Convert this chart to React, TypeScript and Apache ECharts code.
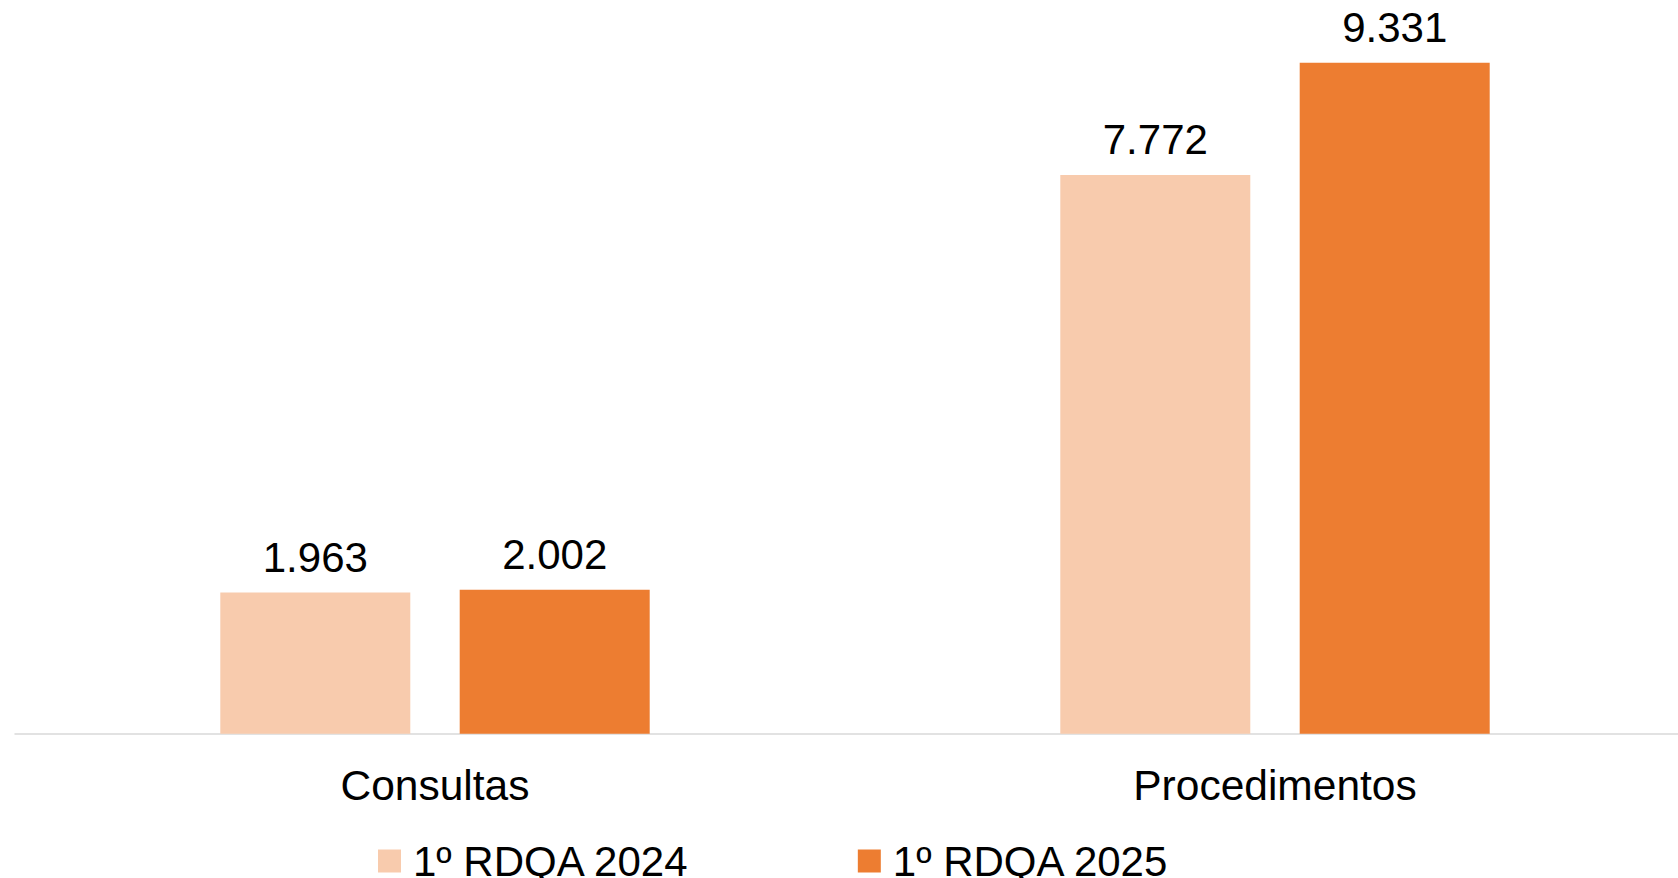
import React, { useEffect, useRef } from "react";
import * as echarts from "echarts";

const categories = ["Consultas", "Procedimentos"];
const seriesNames = ["1º RDQA 2024", "1º RDQA 2025"];
const values2024 = [1963, 7772];
const values2025 = [2002, 9331];
const colors = ["#F8CBAD", "#ED7D31"];

const fmt = (v: number) => v.toLocaleString("de-DE");
const FONT = "'Liberation Sans', Arial, sans-serif";

export default function App() {
  const ref = useRef<HTMLDivElement>(null);
  useEffect(() => {
    if (!ref.current) return;
    const chart = echarts.init(ref.current, undefined, { renderer: "svg" });
    const label = {
      show: true,
      position: "top",
      distance: 14,
      color: "#000000",
      fontSize: 42,
      fontFamily: FONT,
      formatter: (p: any) => fmt(p.value),
    };
    chart.setOption({
      animation: false,
      backgroundColor: "#ffffff",
      grid: {
        left: 15,
        width: 1680,
        top: 14.7,
        bottom: 144.3,
        containLabel: false,
        outerBoundsMode: "none",
      },
      legend: {
        data: seriesNames,
        left: 378,
        top: 840,
        padding: 0,
        itemWidth: 23,
        itemHeight: 23,
        itemGap: 168,
        icon: "rect",
        textStyle: {
          color: "#000000",
          fontSize: 42,
          lineHeight: 34,
          fontFamily: FONT,
          padding: [0, 0, 0, 7],
        },
      },
      xAxis: {
        type: "category",
        data: categories,
        axisTick: { show: false },
        axisLine: { lineStyle: { color: "#d9d9d9", width: 1.5 } },
        axisLabel: { color: "#000000", fontSize: 42.5, fontFamily: FONT, margin: 30 },
      },
      yAxis: {
        type: "value",
        min: 0,
        max: 10000,
        show: false,
        splitLine: { show: false },
      },
      series: [
        {
          name: seriesNames[0],
          type: "bar",
          data: values2024,
          barWidth: 190,
          barGap: "26%",
          itemStyle: { color: colors[0] },
          label,
        },
        {
          name: seriesNames[1],
          type: "bar",
          data: values2025,
          barWidth: 190,
          barGap: "26%",
          itemStyle: { color: colors[1] },
          label,
        },
      ],
    });
    return () => chart.dispose();
  }, []);
  return (
    <div
      ref={ref}
      style={{ position: "absolute", left: 0, top: 0, width: 1678, height: 878 }}
    />
  );
}
